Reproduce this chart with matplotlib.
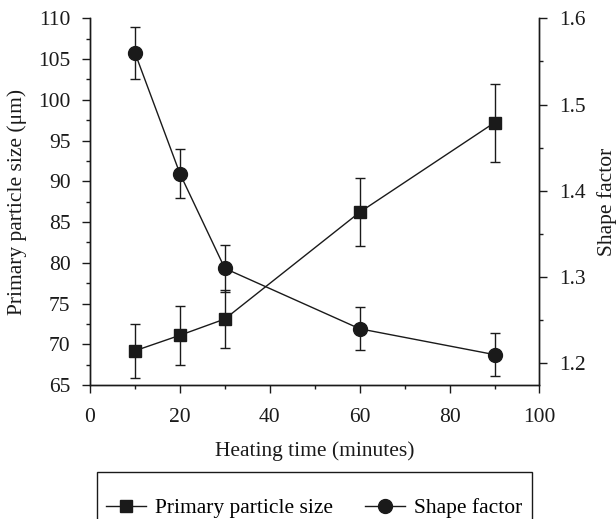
import numpy as np
import matplotlib
matplotlib.use('Agg')
import matplotlib.pyplot as plt
from matplotlib.ticker import MultipleLocator, FormatStrFormatter
from matplotlib.lines import Line2D
from matplotlib.patches import Rectangle

# data
heating_time = [10, 20, 30, 60, 90]
particle_size = [69.2, 71.1, 73.1, 86.2, 97.2]
particle_size_err = [3.3, 3.6, 3.5, 4.2, 4.8]
shape_factor = [1.56, 1.42, 1.31, 1.24, 1.21]
shape_factor_err = [0.030, 0.028, 0.027, 0.025, 0.025]

plt.rcParams['font.family'] = ['Liberation Serif', 'DejaVu Serif']
plt.rcParams['font.size'] = 15.5
ink = '#1a1a1a'

fig = plt.figure(figsize=(6.16, 5.19), dpi=100)
ax = fig.add_axes([0.1461, 0.2582, 0.8758 - 0.1461, 0.9647 - 0.2582])
ax2 = ax.twinx()

ax.errorbar(heating_time, particle_size, yerr=particle_size_err, color=ink,
            marker='s', markersize=8, linewidth=1.0, elinewidth=1.0,
            capsize=3.6, capthick=1.0)
ax2.errorbar(heating_time, shape_factor, yerr=shape_factor_err, color=ink,
             marker='o', markersize=10, linewidth=1.0, elinewidth=1.0,
             capsize=3.6, capthick=1.0)

ax.set_xlim(0, 100)
ax.set_ylim(65, 110)
ax2.set_ylim(1.1748, 1.6)

ax.xaxis.set_major_locator(MultipleLocator(20))
ax.xaxis.set_minor_locator(MultipleLocator(10))
ax.yaxis.set_major_locator(MultipleLocator(5))
ax.yaxis.set_minor_locator(MultipleLocator(2.5))
ax2.yaxis.set_major_locator(MultipleLocator(0.1))
ax2.yaxis.set_minor_locator(MultipleLocator(0.05))
ax2.yaxis.set_major_formatter(FormatStrFormatter('%.1f'))

for a in (ax, ax2):
    a.tick_params(which='major', direction='out', length=6, width=1.0, pad=8, colors=ink)
    a.tick_params(which='minor', direction='out', length=3, width=1.0, colors=ink)
    for s in a.spines.values():
        s.set_linewidth(1.0)
        s.set_color(ink)
ax.tick_params(axis='x', which='major', pad=10.5)
ax.spines['top'].set_visible(False)
ax2.spines['top'].set_visible(False)

ax.set_xlabel('Heating time (minutes)', labelpad=10, color=ink)
ax.set_ylabel('Primary particle size (μm)', labelpad=8, color=ink)
ax2.set_ylabel('Shape factor', labelpad=8, color=ink)

# legend box runs off the bottom of the figure, as in the original
fig.patches.append(Rectangle((97 / 616, -0.05), (532 - 97) / 616, 0.05 + (1 - 472 / 519),
                             transform=fig.transFigure, fill=False,
                             edgecolor=ink, linewidth=1.0))
h1 = Line2D([], [], color=ink, marker='s', markersize=8, linewidth=1.0)
h2 = Line2D([], [], color=ink, marker='o', markersize=10, linewidth=1.0)
leg = fig.legend([h1, h2], ['Primary particle size', 'Shape factor'],
                 loc='center', bbox_to_anchor=(314.5 / 616, 1 - 508 / 519),
                 bbox_transform=fig.transFigure, ncol=2, frameon=False,
                 borderpad=0, borderaxespad=0,
                 handlelength=1.86, handletextpad=0.42, columnspacing=1.49)

fig.savefig('out.png', dpi=100)
